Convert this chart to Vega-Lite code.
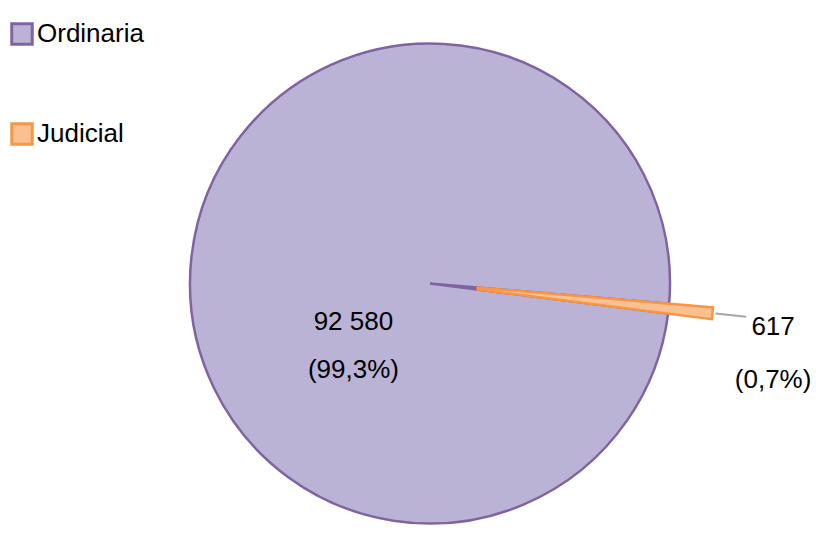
{
  "$schema": "https://vega.github.io/schema/vega-lite/v6.json",
  "width": 772,
  "height": 539,
  "autosize": {"type": "none"},
  "padding": {"left": 44, "top": 14, "right": 0, "bottom": 0},
  "background": "white",
  "config": {
    "view": {"stroke": null},
    "font": "Liberation Sans, Arial, sans-serif"
  },
  "data": {"values": [
    {"cat": "Ordinaria", "value": 92580},
    {"cat": "Judicial", "value": 617}
  ]},
  "transform": [
    {"joinaggregate": [{"op": "sum", "field": "value", "as": "total"}]},
    {"stack": "value", "groupby": [], "sort": [{"field": "cat", "order": "ascending"}], "as": ["v0", "v1"]},
    {"calculate": "(datum.v0 + datum.v1) / 2", "as": "mid"},
    {"calculate": "[replace(format(datum.value, ','), ',', ' '), '(' + replace(format(100 * datum.value / datum.total, '.1f'), '.', ',') + '%)']", "as": "label"}
  ],
  "resolve": {"scale": {"theta": "shared"}},
  "layer": [
    {
      "transform": [{"filter": "datum.cat === 'Ordinaria'"}],
      "mark": {"type": "arc", "radius": 240, "strokeWidth": 2.5},
      "encoding": {
        "theta": {"field": "v0", "type": "quantitative", "stack": null, "scale": {"domain": [0, 93197], "range": [1.655, 7.938], "nice": false, "zero": true}},
        "theta2": {"field": "v1"},
        "fill": {"field": "cat", "type": "nominal", "scale": {"domain": ["Ordinaria", "Judicial"], "range": ["#BBB3D6", "#FAC090"]},
          "legend": {"title": null, "orient": "none", "legendX": -35, "legendY": 7, "symbolType": "square", "symbolSize": 420, "symbolStrokeWidth": 3, "labelFontSize": 26, "labelColor": "black", "labelOffset": 2, "rowPadding": 66, "labelLimit": 300}},
        "stroke": {"field": "cat", "type": "nominal", "scale": {"domain": ["Ordinaria", "Judicial"], "range": ["#8064A2", "#F79646"]},
          "legend": {"title": null, "orient": "none", "legendX": -35, "legendY": 7, "symbolType": "square", "symbolSize": 420, "symbolStrokeWidth": 3, "labelFontSize": 26, "labelColor": "black", "labelOffset": 2, "rowPadding": 66, "labelLimit": 300}}
      }
    },
    {
      "transform": [{"filter": "datum.cat === 'Judicial'"}],
      "mark": {"type": "arc", "radius": 284, "radius2": 48, "strokeWidth": 2.5},
      "encoding": {
        "theta": {"field": "v0", "type": "quantitative", "stack": null, "scale": {"domain": [0, 93197], "range": [1.655, 7.938], "nice": false, "zero": true}},
        "theta2": {"field": "v1"},
        "fill": {"field": "cat", "type": "nominal"},
        "stroke": {"field": "cat", "type": "nominal"}
      }
    },
    {
      "transform": [{"filter": "datum.cat === 'Judicial'"}],
      "mark": {"type": "arc", "radius": 318, "radius2": 287, "filled": false, "stroke": "#A6A6A6", "strokeWidth": 2},
      "encoding": {
        "theta": {"field": "mid", "type": "quantitative", "stack": null, "scale": {"domain": [0, 93197], "range": [1.655, 7.938], "nice": false, "zero": true}},
        "theta2": {"field": "mid"}
      }
    },
    {
      "transform": [{"filter": "datum.cat === 'Ordinaria'"}],
      "mark": {"type": "text", "radius": 77, "dy": 47, "fontSize": 26, "lineHeight": 48, "align": "center", "baseline": "middle", "color": "black"},
      "encoding": {
        "theta": {"field": "mid", "type": "quantitative", "stack": null, "scale": {"domain": [0, 93197], "range": [1.655, 7.938], "nice": false, "zero": true}},
        "text": {"field": "label"}
      }
    },
    {
      "transform": [{"filter": "datum.cat === 'Judicial'"}],
      "mark": {"type": "text", "radius": 345, "dy": 7, "fontSize": 26, "lineHeight": 53, "align": "center", "baseline": "middle", "color": "black"},
      "encoding": {
        "theta": {"field": "mid", "type": "quantitative", "stack": null, "scale": {"domain": [0, 93197], "range": [1.655, 7.938], "nice": false, "zero": true}},
        "text": {"field": "label"}
      }
    }
  ]
}
